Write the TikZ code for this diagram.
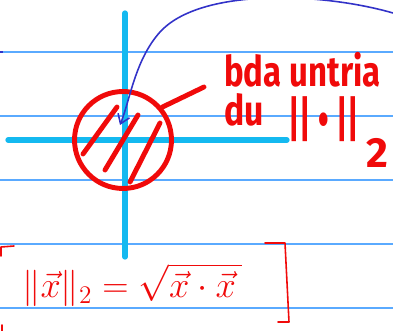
\documentclass[tikz,border=0pt]{standalone}
\usepackage{amsmath}
\usepackage{fontspec}
\setmainfont{Fira Sans}
\usetikzlibrary{arrows.meta,positioning}
\definecolor{rulecol}{RGB}{90,170,255}
\definecolor{axiscol}{RGB}{20,185,240}
\definecolor{pencol}{RGB}{240,10,10}
\definecolor{inkcol}{RGB}{50,50,200}
\tikzset{ruleline/.style={rulecol, line width=0.8pt}}
\tikzset{axisline/.style={axiscol, line width=3pt, line cap=round}}
\tikzset{redpen/.style={pencol, line width=2.8pt, line cap=round}}
\tikzset{thinpen/.style={pencol, line width=0.9pt, line cap=round, line join=round}}
\tikzset{redtext/.style={pencol, inner sep=0pt, font=\bfseries\fontsize{24}{24}\selectfont}}

\begin{document}
\begin{tikzpicture}[x=0.02cm, y=-0.02cm]
  \useasboundingbox (0,0) rectangle (393,331);
  % ruled paper
  \foreach \y in {52,116,180,244,308}
    \draw[ruleline] (0,\y) -- (393,\y);
  \draw[inkcol, line width=0.8pt] (0,52) -- (3,52);
  % axes
  \draw[axisline] (8,140) -- (287,140);
  \draw[axisline] (125,13) -- (125,257);
  % unit ball, hatched
  \node[circle, draw=pencol, line width=2.8pt, minimum size=1.94cm, inner sep=0pt] (ball) at (123,140) {};
  \draw[redpen] (83,154) -- (117,107);
  \draw[redpen] (105,170) -- (138,115);
  \draw[redpen] (130,182) -- (160,123);
  % label
  \node[redtext, anchor=west] (title) at (224,70) {\scalebox{0.78}[1]{bda untria}};
  \node[redtext, anchor=west] (du) at (224,110) {\scalebox{0.8}[1]{du}};
  \node[redtext, anchor=west, font=\bfseries\fontsize{28}{28}\selectfont] (norm) at (288,119) {\scalebox{0.62}[1]{|| • ||}};
  \node[redtext, anchor=north west] (sub) at (366,138) {2};
  \coordinate (lbl) at (204,87);
  \draw[redpen] (ball.40) -- (lbl);
  % arrow to the ball
  \coordinate (start) at (393,13);
  \coordinate (tip) at (120,125);
  \draw[inkcol, line width=0.9pt, -{Straight Barb[length=5pt,width=7pt]}]
    (start) .. controls (320,-8) and (200,-12) .. (160,32)
    .. controls (135,60) and (130,100) .. (tip);
  % formula in a box
  \node[pencol, inner sep=0pt, font=\fontsize{21}{21}\selectfont, anchor=west] (form) at (22,285)
    {$\|\vec{x}\|_{2} = \sqrt{\vec{x}\cdot\vec{x}\,}$};
  \draw[thinpen] (1,256) -- (1,247) -- (14,246);
  \draw[thinpen] (265,243) -- (285,243) -- (289,322) -- (278,322);
  \draw[thinpen] (2,325) -- (2,331);
\end{tikzpicture}
\end{document}
